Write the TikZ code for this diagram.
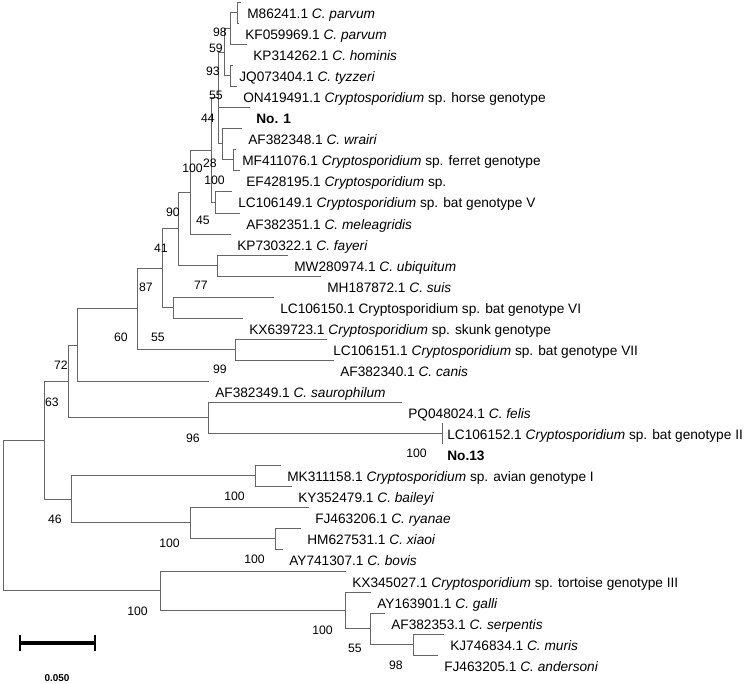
\documentclass[tikz,border=0pt]{standalone}
\usepackage{fontspec}
\setmainfont{Liberation Sans}
\usetikzlibrary{positioning}

\begin{document}
\begin{tikzpicture}[x=0.02646cm,y=-0.02646cm]
\tikzstyle{branch}=[draw=black!60,line width=0.6pt]
\tikzstyle{leaf}=[anchor=base west,inner sep=0pt,font=\fontsize{10.3}{12}\selectfont]
\tikzstyle{boot}=[anchor=east,inner sep=0pt,font=\fontsize{9.2}{11}\selectfont]
\useasboundingbox (0,0) rectangle (756,683);

% internal nodes of the tree
\coordinate (nB) at (237,12.5);
\coordinate (nA) at (230,28.25);
\coordinate (nD) at (230,75.5);
\coordinate (nC) at (224,51.9);
\coordinate (nG) at (233,159.5);
\coordinate (nF) at (222,143.75);
\coordinate (nE) at (218,97.8);
\coordinate (nH) at (215,202);
\coordinate (nT) at (211,149.9);
\coordinate (n190) at (190,192);
\coordinate (n217) at (217,265.5);
\coordinate (n178) at (178,228.7);
\coordinate (n173) at (173,307.5);
\coordinate (n162) at (162,268.1);
\coordinate (n235) at (235,349.5);
\coordinate (n137) at (137,308.8);
\coordinate (n77) at (77,344.9);
\coordinate (n442) at (442,433.5);
\coordinate (n208) at (208,417.75);
\coordinate (n68) at (68,381.3);
\coordinate (n255) at (255,475.5);
\coordinate (n275) at (275,538.5);
\coordinate (nRy) at (190,522.75);
\coordinate (n71) at (71,499.1);
\coordinate (n44) at (44,440.2);
\coordinate (n413) at (413,644.5);
\coordinate (n370) at (370,628.75);
\coordinate (n345) at (345,610.4);
\coordinate (n160) at (160,590.7);
\coordinate (root) at (3,515.4);

% leaf tips
\coordinate (t1) at (241,2);
\coordinate (t2) at (239,23);
\coordinate (t3) at (247,44);
\coordinate (t4) at (233,65);
\coordinate (t5) at (237,86);
\coordinate (t6) at (250,107);
\coordinate (t7) at (242,128);
\coordinate (t8) at (236,149);
\coordinate (t9) at (240,170);
\coordinate (t10) at (232,191);
\coordinate (t11) at (240,213);
\coordinate (t12) at (231,234);
\coordinate (t13) at (288,255);
\coordinate (t14) at (321,276);
\coordinate (t15) at (274,297);
\coordinate (t16) at (243,318);
\coordinate (t17) at (327,339);
\coordinate (t18) at (334,360);
\coordinate (t19) at (209,381);
\coordinate (t20) at (402,402);
\coordinate (t21) at (442,423);
\coordinate (t22) at (442,444);
\coordinate (t23) at (281,465);
\coordinate (t24) at (292,486);
\coordinate (t25) at (309,507);
\coordinate (t26) at (301,528);
\coordinate (t27) at (283,549);
\coordinate (t28) at (346,571);
\coordinate (t29) at (371,592);
\coordinate (t30) at (385,613);
\coordinate (t31) at (444,634);
\coordinate (t32) at (438,655);

% branches
\draw[branch] (nB) |- (t1) (nB) |- (t2);
\draw[branch] (nA) |- (nB) (nA) |- (t3);
\draw[branch] (nD) |- (t4) (nD) |- (t5);
\draw[branch] (nC) |- (nA) (nC) |- (nD);
\draw[branch] (nG) |- (t8) (nG) |- (t9);
\draw[branch] (nF) |- (t7) (nF) |- (nG);
\draw[branch] (nE) |- (nC) (nE) |- (t6) (nE) |- (nF);
\draw[branch] (nH) |- (t10) (nH) |- (t11);
\draw[branch] (nT) |- (nE) (nT) |- (nH);
\draw[branch] (n190) |- (nT) (n190) |- (t12);
\draw[branch] (n217) |- (t13) (n217) |- (t14);
\draw[branch] (n178) |- (n190) (n178) |- (n217);
\draw[branch] (n173) |- (t15) (n173) |- (t16);
\draw[branch] (n162) |- (n178) (n162) |- (n173);
\draw[branch] (n235) |- (t17) (n235) |- (t18);
\draw[branch] (n137) |- (n162) (n137) |- (n235);
\draw[branch] (n77) |- (n137) (n77) |- (t19);
\draw[branch] (n442) |- (t21) (n442) |- (t22);
\draw[branch] (n208) |- (t20) (n208) |- (n442);
\draw[branch] (n68) |- (n77) (n68) |- (n208);
\draw[branch] (n255) |- (t23) (n255) |- (t24);
\draw[branch] (n275) |- (t26) (n275) |- (t27);
\draw[branch] (nRy) |- (t25) (nRy) |- (n275);
\draw[branch] (n71) |- (n255) (n71) |- (nRy);
\draw[branch] (n44) |- (n68) (n44) |- (n71);
\draw[branch] (n413) |- (t31) (n413) |- (t32);
\draw[branch] (n370) |- (t30) (n370) |- (n413);
\draw[branch] (n345) |- (t29) (n345) |- (n370);
\draw[branch] (n160) |- (t28) (n160) |- (n345);
\draw[branch] (root) |- (n44) (root) |- (n160);

% taxa
\node[leaf] (l1) at ([shift={(6,16)}]t1) {M86241.1 \textit{C. parvum}};
\node[leaf] (l2) at ([shift={(6,16)}]t2) {KF059969.1 \textit{C. parvum}};
\node[leaf] (l3) at ([shift={(6,16)}]t3) {KP314262.1 \textit{C. hominis}};
\node[leaf] (l4) at ([shift={(6,16)}]t4) {JQ073404.1 \textit{C. tyzzeri}};
\node[leaf] (l5) at ([shift={(6,16)}]t5) {ON419491.1 \textit{Cryptosporidium} sp. horse genotype};
\node[leaf] (l6) at ([shift={(6,16)}]t6) {\bfseries No. 1};
\node[leaf] (l7) at ([shift={(6,16)}]t7) {AF382348.1 \textit{C. wrairi}};
\node[leaf] (l8) at ([shift={(6,16)}]t8) {MF411076.1 \textit{Cryptosporidium} sp. ferret genotype};
\node[leaf] (l9) at ([shift={(6,16)}]t9) {EF428195.1 \textit{Cryptosporidium} sp.};
\node[leaf] (l10) at ([shift={(6,16)}]t10) {LC106149.1 \textit{Cryptosporidium} sp. bat genotype V};
\node[leaf] (l11) at ([shift={(6,16)}]t11) {AF382351.1 \textit{C. meleagridis}};
\node[leaf] (l12) at ([shift={(6,16)}]t12) {KP730322.1 \textit{C. fayeri}};
\node[leaf] (l13) at ([shift={(6,16)}]t13) {MW280974.1 \textit{C. ubiquitum}};
\node[leaf] (l14) at ([shift={(6,16)}]t14) {MH187872.1 \textit{C. suis}};
\node[leaf] (l15) at ([shift={(6,16)}]t15) {LC106150.1 Cryptosporidium sp. bat genotype VI};
\node[leaf] (l16) at ([shift={(6,16)}]t16) {KX639723.1 \textit{Cryptosporidium} sp. skunk genotype};
\node[leaf] (l17) at ([shift={(6,16)}]t17) {LC106151.1 \textit{Cryptosporidium} sp. bat genotype VII};
\node[leaf] (l18) at ([shift={(6,16)}]t18) {AF382340.1 \textit{C. canis}};
\node[leaf] (l19) at ([shift={(6,16)}]t19) {AF382349.1 \textit{C. saurophilum}};
\node[leaf] (l20) at ([shift={(6,16)}]t20) {PQ048024.1 \textit{C. felis}};
\node[leaf] (l21) at ([shift={(5,16)}]t21) {LC106152.1 \textit{Cryptosporidium} sp. bat genotype II};
\node[leaf] (l22) at ([shift={(5,16)}]t22) {\bfseries No.13};
\node[leaf] (l23) at ([shift={(6,16)}]t23) {MK311158.1 \textit{Cryptosporidium} sp. avian genotype I};
\node[leaf] (l24) at ([shift={(6,16)}]t24) {KY352479.1 \textit{C. baileyi}};
\node[leaf] (l25) at ([shift={(6,16)}]t25) {FJ463206.1 \textit{C. ryanae}};
\node[leaf] (l26) at ([shift={(6,16)}]t26) {HM627531.1 \textit{C. xiaoi}};
\node[leaf] (l27) at ([shift={(6,16)}]t27) {AY741307.1 \textit{C. bovis}};
\node[leaf] (l28) at ([shift={(6,16)}]t28) {KX345027.1 \textit{Cryptosporidium} sp. tortoise genotype III};
\node[leaf] (l29) at ([shift={(6,16)}]t29) {AY163901.1 \textit{C. galli}};
\node[leaf] (l30) at ([shift={(6,16)}]t30) {AF382353.1 \textit{C. serpentis}};
\node[leaf] (l31) at ([shift={(6,16)}]t31) {KJ746834.1 \textit{C. muris}};
\node[leaf] (l32) at ([shift={(6,16)}]t32) {FJ463205.1 \textit{C. andersoni}};

% bootstrap values
\node[boot] (bB) at (227,32) {98};
\node[boot] (bA) at (223,48) {59};
\node[boot] (bC) at (220,71) {93};
\node[boot] (bD) at (223,95) {55};
\node[boot] (bE) at (215,118) {44};
\node[boot] (bT) at (203,168) {100};
\node[boot] (bF) at (217,163) {28};
\node[boot] (bG) at (225,180) {100};
\node[boot] (b190) at (180,212) {90};
\node[boot] (bH) at (210,220) {45};
\node[boot] (b178) at (168,248) {41};
\node[boot] (b217) at (208,285) {77};
\node[boot] (b162) at (153,287) {87};
\node[boot] (b173) at (165,337) {55};
\node[boot] (b137) at (128,337) {60};
\node[boot] (b235) at (227,369) {99};
\node[boot] (b77) at (68,365) {72};
\node[boot] (b68) at (59,402) {63};
\node[boot] (b208) at (200,438) {96};
\node[boot] (b442) at (427,453) {100};
\node[boot] (b255) at (245,496) {100};
\node[boot] (b71) at (62,519) {46};
\node[boot] (bRy) at (180,543) {100};
\node[boot] (b275) at (265,559) {100};
\node[boot] (b160) at (148,611) {100};
\node[boot] (b345) at (333,630) {100};
\node[boot] (b370) at (362,648) {55};
\node[boot] (b413) at (403,665) {98};

% scale bar
\coordinate (sbl) at (20,643);
\coordinate (sbr) at (95,643);
\draw[line width=3pt] (sbl) -- (sbr);
\draw[line width=2pt] ([yshift=-6]sbl) -- ([yshift=6]sbl) ([yshift=-6]sbr) -- ([yshift=6]sbr);
\node[font=\fontsize{7.5}{9}\bfseries\selectfont,inner sep=0pt] (sblab) at (57,678) {0.050};
\end{tikzpicture}
\end{document}
